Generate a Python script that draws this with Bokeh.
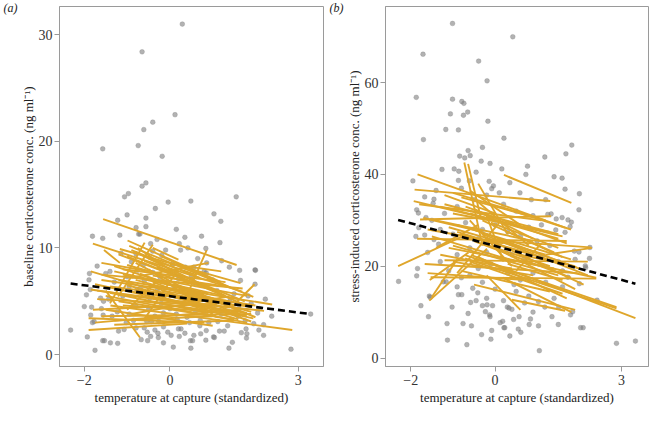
from bokeh.plotting import figure
from bokeh.layouts import row
from bokeh.models import FixedTicker, LinearAxis
from bokeh.embed import file_html
from bokeh.resources import INLINE

# ---------------- panel (a): baseline ----------------
a_pts_x = [0.29,-0.65,0.12,-0.40,-0.61,-1.57,-0.74,-0.18,-0.56,-0.65,-1.06,-0.97,1.55,0.49,-0.04,-0.34,1.03,-1.0,-1.22,1.19,
           -0.56,-0.56,-0.79,0.15,-1.81,-1.17,0.74,0.35,-0.73,-0.70,-1.57,1.17,-0.45,0.22,0.42,0.25,-0.19,-0.40,-1.14,-0.79,
           0.84,0.07,0.36,0.86,1.21,1.39,1.99,2.0,1.63,-1.88,-1.40,-1.50,-0.62,-0.76,0.56,0.80,0.85,1.65,-1.89,-0.95,
           -0.23,1.99,-1.86,-1.62,-1.43,-0.77,-0.69,-0.47,0.51,1.83,2.23,-1.83,-1.55,-1.23,-1.85,-1.77,-1.81,-1.56,-1.02,-0.85,
           -0.54,-0.43,-0.26,-0.15,0.17,0.46,0.71,0.91,1.12,1.43,1.76,1.96,2.19,2.38,3.29,-2.32,-1.93,-1.75,-1.57,-1.53,
           -1.22,-1.39,-1.07,-0.79,-0.67,-0.53,-0.52,-0.45,-0.28,-0.27,-0.15,0.03,0.08,0.2,0.26,0.22,0.48,0.53,0.49,0.56,
           0.72,0.85,0.84,1.02,1.04,1.16,1.27,1.38,1.46,1.67,1.78,1.8,1.79,2.08,2.19,2.83,
           -1.3,-1.0,-0.6,-0.3,-0.1,0.1,0.3,0.6,0.9,1.1,1.3,1.5,-1.1,-0.8,-0.5,-0.2,0.0,0.3,0.6,0.8,
           1.0,1.2,1.6,1.9,-1.6,-1.35,-0.95,-0.35,0.15,0.4,0.7,1.35,-0.15,-0.6,-1.2,0.0,0.2,-0.4,0.5,1.0,
           -1.7,-0.1,1.4,2.05,2.1,-2.0,-1.95,0.65,-0.9,-0.3,1.6,-0.05,0.35,-0.35]
a_pts_y = [31.0,28.4,22.5,21.8,21.1,19.3,19.6,18.6,16.1,15.8,14.8,15.1,14.8,14.4,14.3,13.7,13.2,13.1,12.6,12.5,
           12.8,12.0,11.9,11.75,11.1,11.2,11.1,11.0,11.3,11.3,10.9,10.5,10.4,10.4,10.0,9.8,9.3,9.7,9.5,9.45,
           9.95,8.5,8.2,8.6,8.8,8.2,7.95,7.9,7.9,7.6,7.8,7.6,8.4,7.9,8.2,7.8,7.65,6.95,7.0,6.4,
           7.25,6.6,6.1,5.3,5.2,6.1,6.2,5.3,5.5,5.5,5.2,4.45,5.0,4.0,3.7,3.1,3.0,3.7,3.0,3.2,
           3.1,3.1,3.1,3.9,3.3,3.0,3.2,3.0,3.1,3.3,3.15,2.9,2.8,3.6,3.8,2.3,1.65,0.4,1.3,1.3,
           1.05,1.1,2.35,2.5,1.4,2.1,1.3,1.7,2.0,1.6,1.1,1.8,0.7,2.4,2.4,1.7,1.3,1.3,0.6,1.8,
           1.95,2.25,1.35,1.65,1.6,2.2,2.2,0.6,1.15,2.05,2.4,1.95,1.55,2.3,1.8,0.5,
           6.8,7.3,6.9,6.0,5.6,6.3,5.9,6.6,5.2,6.0,4.9,5.7,5.5,4.6,4.2,4.8,4.3,4.6,4.1,3.9,
           4.5,3.8,4.3,4.8,4.3,3.6,3.8,3.6,3.8,3.5,2.7,2.7,2.6,2.5,2.2,7.8,7.1,7.7,7.3,7.0,
           8.3,9.8,5.0,3.9,4.3,4.5,5.6,9.0,8.7,10.8,3.6,2.1,2.0,2.3]

# individual within-bird slopes (start x, start y, end x, end y)
a_ln_x0 = [-1.56,-1.80,-0.99,-1.54,-1.17,-0.95,-1.40,-1.21,0.37,-0.9,-0.75,-0.80,-1.30,-1.60,-1.75,-1.85,-1.50,-1.9,-1.39,-1.6,
           -1.75,-1.8,1.58,-1.2,-0.6,-0.5,-1.1,-0.3,-1.5,-1.0,-0.7,-1.3,-1.2,-0.4,-0.9,-1.6,-0.2,-1.0,-0.6,-0.5,
           -1.4,0.2,-1.1,-0.8,-1.7,-1.3,-0.3,-1.0,-0.4,-0.2,-1.5,-0.7,-1.85,0.0,-0.9,-1.2,-0.3,-1.6,
           -1.3,-0.8,-1.0,-0.5,-1.7,-0.2,-1.4,-0.6,-1.1,-0.9,-0.4,-1.9]
a_ln_y0 = [12.7,10.4,10.7,9.8,9.9,10.2,4.8,5.45,5.3,7.2,10.0,9.6,8.3,7.5,6.6,6.1,6.0,2.3,4.6,3.6,
           3.0,4.2,5.0,7.0,8.8,9.0,8.0,8.2,5.5,6.5,7.6,3.2,5.0,6.8,5.9,7.0,9.2,4.2,3.3,8.0,
           6.4,6.5,7.5,8.6,5.2,2.8,5.2,9.2,10.0,7.0,4.2,6.0,7.8,8.5,3.8,9.4,6.2,8.6,
           7.8,7.0,8.4,6.5,6.0,6.0,5.8,5.0,4.6,9.8,7.4,3.4]
a_ln_x1 = [1.56,1.69,1.20,-1.17,1.65,1.95,-0.59,-0.40,0.86,0.9,0.35,1.30,1.50,1.70,1.95,1.80,-0.70,0.4,2.86,1.9,
           1.6,1.2,1.98,2.39,1.75,0.6,1.3,1.9,1.8,1.4,1.6,1.0,1.5,1.7,1.85,0.8,1.4,-0.3,0.2,1.1,
           1.2,2.0,0.9,1.0,1.1,1.5,2.2,0.5,0.2,1.8,1.0,1.6,0.6,1.2,1.3,0.9,1.9,-0.2,
           1.6,1.9,1.2,1.5,1.4,2.0,0.9,1.8,1.6,0.7,1.3,0.8]
a_ln_y1 = [8.4,5.9,6.8,8.6,6.7,5.4,10.5,10.3,9.8,8.6,7.0,5.5,4.6,6.2,3.4,3.9,1.6,2.9,2.3,3.8,
           4.2,4.8,6.6,4.7,5.0,7.5,6.8,4.4,3.0,4.0,4.2,3.6,3.3,3.7,4.5,5.6,6.3,6.9,8.0,3.5,
           5.0,3.5,5.7,4.8,4.6,3.2,4.1,6.8,8.9,5.5,2.7,3.3,4.9,7.8,5.4,6.2,3.1,7.6,
           5.2,4.0,5.9,4.9,4.4,4.6,3.9,3.6,3.9,7.2,6.4,3.0]

a_fit_x = [-2.32, 3.29]
a_fit_y = [6.66, 3.80]

# ---------------- panel (b): stress-induced ----------------
b_pts_x = [-1.01,0.42,-1.71,-0.39,-0.19,-1.87,-1.01,-0.79,-0.74,-1.06,-0.65,-0.75,-0.17,-1.17,-0.87,-1.70,0.21,1.82,-0.30,1.68,
           1.18,-0.64,-0.84,-0.72,-0.59,-0.33,-0.12,0.77,0.16,-1.26,-0.97,-0.86,0.73,-1.95,-0.87,-0.61,-0.14,0.35,1.40,1.59,
           1.66,-0.04,-0.08,0.59,0.86,-1.67,2.0,-1.45,-1.47,-1.86,1.99,-1.82,-1.64,1.25,1.33,1.45,1.73,1.81,1.78,1.59,
           1.44,1.66,-1.81,-1.88,-1.67,-1.45,-1.34,2.25,1.88,1.99,2.24,2.14,-1.84,-1.86,-2.29,-1.23,-1.16,-1.56,-1.54,-1.76,
           -1.02,-1.58,-1.14,-0.76,-0.56,-0.64,-0.87,-0.79,-0.41,-0.53,-0.58,-0.30,-0.19,-0.06,-0.23,-0.13,-0.12,-0.08,-0.10,-0.32,
           0.18,0.12,0.21,0.23,0.29,0.33,0.40,0.44,0.35,0.55,0.61,0.57,0.84,0.81,1.03,1.05,1.03,1.18,1.50,2.03,
           2.09,1.79,1.84,2.88,3.33,-1.13,-0.67,1.51,2.42,1.73,2.0,2.15,
           -1.5,-1.2,-0.9,-0.5,-0.2,0.2,0.5,0.9,1.1,-1.3,-1.0,-0.7,-0.3,0.0,0.3,0.6,1.0,1.3,-1.6,-1.3,
           -0.9,-0.6,-0.2,0.1,0.4,0.7,1.1,1.5,-1.1,-0.8,-0.4,-0.1,0.3,0.6,0.9,1.2,1.6,-0.9,-0.3,0.0,
           0.5,0.8,1.4,-0.2,0.2,0.7,1.6,1.9,-0.4,0.8,-0.8,0.1,1.2,-1.4,-0.45,-0.6,0.45,-0.45,1.35,0.9]
b_pts_y = [72.9,70.0,66.2,64.7,60.4,56.8,56.4,55.9,55.5,53.2,53.6,52.9,51.6,49.8,49.7,47.6,47.9,46.4,45.9,44.5,
           43.8,45.2,44.0,43.6,44.1,42.9,42.4,41.8,41.2,41.1,41.2,40.7,40.0,38.6,38.7,38.6,38.5,38.2,39.5,39.2,
           36.8,37.5,36.9,36.0,34.5,35.1,35.8,34.6,33.7,32.3,32.3,31.6,30.6,31.3,31.4,30.3,30.1,29.6,28.6,30.6,
           27.9,27.4,28.4,26.5,26.8,25.8,24.8,24.1,23.3,23.1,21.7,20.1,19.5,17.9,16.7,16.6,16.6,13.5,13.2,11.4,
           11.1,9.0,7.5,7.5,7.0,9.7,13.8,13.8,14.2,15.2,12.1,11.4,11.6,11.4,10.1,9.4,9.0,6.0,4.1,5.1,
           8.0,7.7,6.6,6.6,11.1,10.9,10.6,8.4,4.8,6.3,5.6,9.0,8.5,7.3,7.0,1.6,12.3,11.1,7.3,6.6,
           6.6,9.4,10.1,3.2,3.7,3.9,2.9,11.1,12.6,17.6,16.2,19.7,
           30.0,31.5,33.0,34.5,35.5,33.5,32.0,31.0,29.0,28.0,27.0,29.5,28.0,29.0,27.5,26.5,25.5,24.5,23.0,21.0,
           22.5,24.0,23.0,24.5,22.5,21.5,22.0,21.0,19.0,17.5,19.5,20.5,18.5,17.0,18.5,16.5,15.5,15.5,16.5,15.0,
           14.5,13.5,13.0,13.0,12.5,12.0,19.0,21.5,26.0,28.5,37.0,36.0,34.5,36.5,40.5,18.0,16.0,12.5,9.0,10.0]

b_ln_x0 = [-1.84,0.21,-1.91,-1.93,-1.8,-2.30,-0.73,-0.64,-1.56,-1.5,-1.55,-0.56,-0.71,-0.71,0.18,0.4,-1.85,-1.78,-1.53,-0.7,
           -1.67,-1.2,-1.0,-0.8,-0.4,-1.3,-0.6,-0.9,-0.5,-1.5,-1.1,-0.3,-1.0,-0.2,0.0,-0.4,-0.8,0.3,-0.2,-0.6,
           -0.4,0.1,-1.7,-1.4,-0.9,0.5,-1.2,-0.6,0.6,-1.0,-0.3,0.1,-1.3,-0.5,1.2,-0.8,-0.2,-1.6,0.3,-1.0,
           -1.2,-0.7,-0.9,-0.3,-1.4,-0.5,-1.1,0.2,-0.6,-1.6,-0.1,-0.5]
b_ln_y0 = [40.0,39.9,36.7,34.2,33.5,20.0,42.6,42.3,12.5,13.3,17.0,22.4,22.4,21.7,17.5,12.7,26.0,30.2,17.6,26.0,
           20.5,21.3,36.0,35.0,38.0,33.0,31.5,29.0,28.0,26.5,28.5,30.0,24.5,26.0,24.0,22.0,19.0,20.5,18.0,30.0,
           34.0,33.0,30.5,24.0,18.5,19.0,35.5,36.5,22.5,31.5,25.0,22.0,22.5,16.0,22.5,27.0,31.0,28.0,27.5,21.0,
           33.5,33.0,27.5,27.0,30.0,25.5,24.0,25.5,21.0,18.5,29.5,32.5]
b_ln_x1 = [1.66,1.81,1.31,1.60,1.1,-0.71,-0.30,-0.34,-0.19,-0.9,-0.63,3.33,2.88,2.88,1.81,1.66,1.70,1.33,2.40,2.27,
           1.96,2.2,1.2,0.8,0.3,0.9,1.5,1.8,2.0,0.5,1.2,1.6,1.5,2.1,1.9,1.7,1.3,1.6,0.6,0.4,
           0.8,1.8,-0.3,-0.4,0.1,1.1,0.0,0.6,1.9,1.3,1.3,2.4,0.4,1.9,2.3,0.7,0.2,0.2,1.4,0.9,
           1.5,1.7,1.6,2.2,0.9,1.8,1.4,2.0,1.6,0.7,1.5,0.9]
b_ln_y1 = [28.4,33.8,34.2,26.5,30.0,26.8,24.5,30.6,23.8,21.5,23.0,8.7,11.1,10.8,10.0,10.3,25.5,30.9,17.3,24.1,
           18.5,21.0,30.0,31.0,27.0,28.0,26.0,21.5,19.5,21.0,22.5,22.0,18.0,16.0,15.0,13.0,14.5,17.0,10.5,20.0,
           24.5,28.0,27.5,29.0,29.5,25.0,31.5,29.0,20.0,27.5,20.0,17.5,19.5,10.5,24.0,23.0,21.0,25.0,23.0,18.0,
           27.0,25.0,20.5,18.0,25.5,17.5,19.5,19.5,14.0,17.0,24.0,26.0]

b_fit_x = [-2.30, 3.33]
b_fit_y = [30.1, 16.2]

x_ticks = [-2, 0, 3]
x_tick_labels = {-2: "\u22122", 0: "0", 3: "3"}
a_y_ticks = [0, 10, 20, 30]
b_y_ticks = [0, 20, 40, 60]

SERIF = "Liberation Serif"
ORANGE = "#DFA62B"
GREY = "#7f7f7f"


def panel(width, border_left, border_right, xr, yr, pts_x, pts_y, x0, y0, x1, y1,
          fx, fy, yticks, ylabel, tag):
    p = figure(width=width, height=407, x_range=xr, y_range=yr,
               output_backend="svg", toolbar_location=None,
               min_border_left=border_left, min_border_right=border_right,
               min_border_top=6, min_border_bottom=33)
    p.grid.grid_line_color = None
    p.outline_line_color = "#9a9a9a"
    p.outline_line_width = 1
    p.background_fill_color = "white"
    p.border_fill_color = "white"
    for ax in (p.xaxis[0], p.yaxis[0]):
        ax.axis_line_color = "#9a9a9a"
        ax.major_tick_line_color = "#9a9a9a"
        ax.minor_tick_line_color = None
        ax.major_tick_out = 5
        ax.major_tick_in = 0
        ax.major_label_text_font = SERIF
        ax.major_label_text_font_size = "14px"
        ax.major_label_text_color = "#333333"
        ax.axis_label_text_font = SERIF
        ax.axis_label_text_font_size = "13px"
        ax.axis_label_text_font_style = "normal"
        ax.axis_label_text_color = "#222222"
    p.xaxis.major_label_standoff = 3
    p.yaxis.major_label_standoff = 2
    p.xaxis.ticker = FixedTicker(ticks=x_ticks)
    p.xaxis.major_label_overrides = x_tick_labels
    p.yaxis.ticker = FixedTicker(ticks=yticks)
    p.xaxis.axis_label = "temperature at capture (standardized)"
    p.xaxis.axis_label_standoff = 2
    p.yaxis.axis_label = ylabel
    p.yaxis.axis_label_standoff = 0

    # panel tag "(a)"/"(b)" drawn as the single label of an outer, line-less axis
    top = yr[1] - 0.01
    tag_axis = LinearAxis(ticker=FixedTicker(ticks=[top]),
                          major_label_overrides={top: tag},
                          axis_line_color=None, major_tick_line_color=None,
                          minor_tick_line_color=None, major_tick_out=0, major_tick_in=0,
                          major_label_standoff=0,
                          major_label_text_font=SERIF, major_label_text_font_size="12px",
                          major_label_text_font_style="italic",
                          major_label_text_color="#222222")
    p.add_layout(tag_axis, "left")

    p.scatter(pts_x, pts_y, size=4.8, fill_color=GREY, fill_alpha=0.6,
              line_color=GREY, line_alpha=0.3)
    p.segment(x0=x0, y0=y0, x1=x1, y1=y1, line_color=ORANGE, line_width=1.9)
    p.line(fx, fy, line_color="black", line_width=2.6, line_dash="7 4")
    return p


pa = panel(326, 53, 3, (-2.58, 3.59), (-1.12, 32.65), a_pts_x, a_pts_y,
           a_ln_x0, a_ln_y0, a_ln_x1, a_ln_y1, a_fit_x, a_fit_y, a_y_ticks,
           "baseline corticosterone conc. (ng ml\u207b\u00b9)", "(a)")
pb = panel(325, 52, 3, (-2.6, 3.64), (-1.85, 76.6), b_pts_x, b_pts_y,
           b_ln_x0, b_ln_y0, b_ln_x1, b_ln_y1, b_fit_x, b_fit_y, b_y_ticks,
           "stress-induced corticosterone conc. (ng ml\u207b\u00b9)", "(b)")

layout = row(pa, pb)
open("out.html", "w").write(file_html(layout, INLINE))
